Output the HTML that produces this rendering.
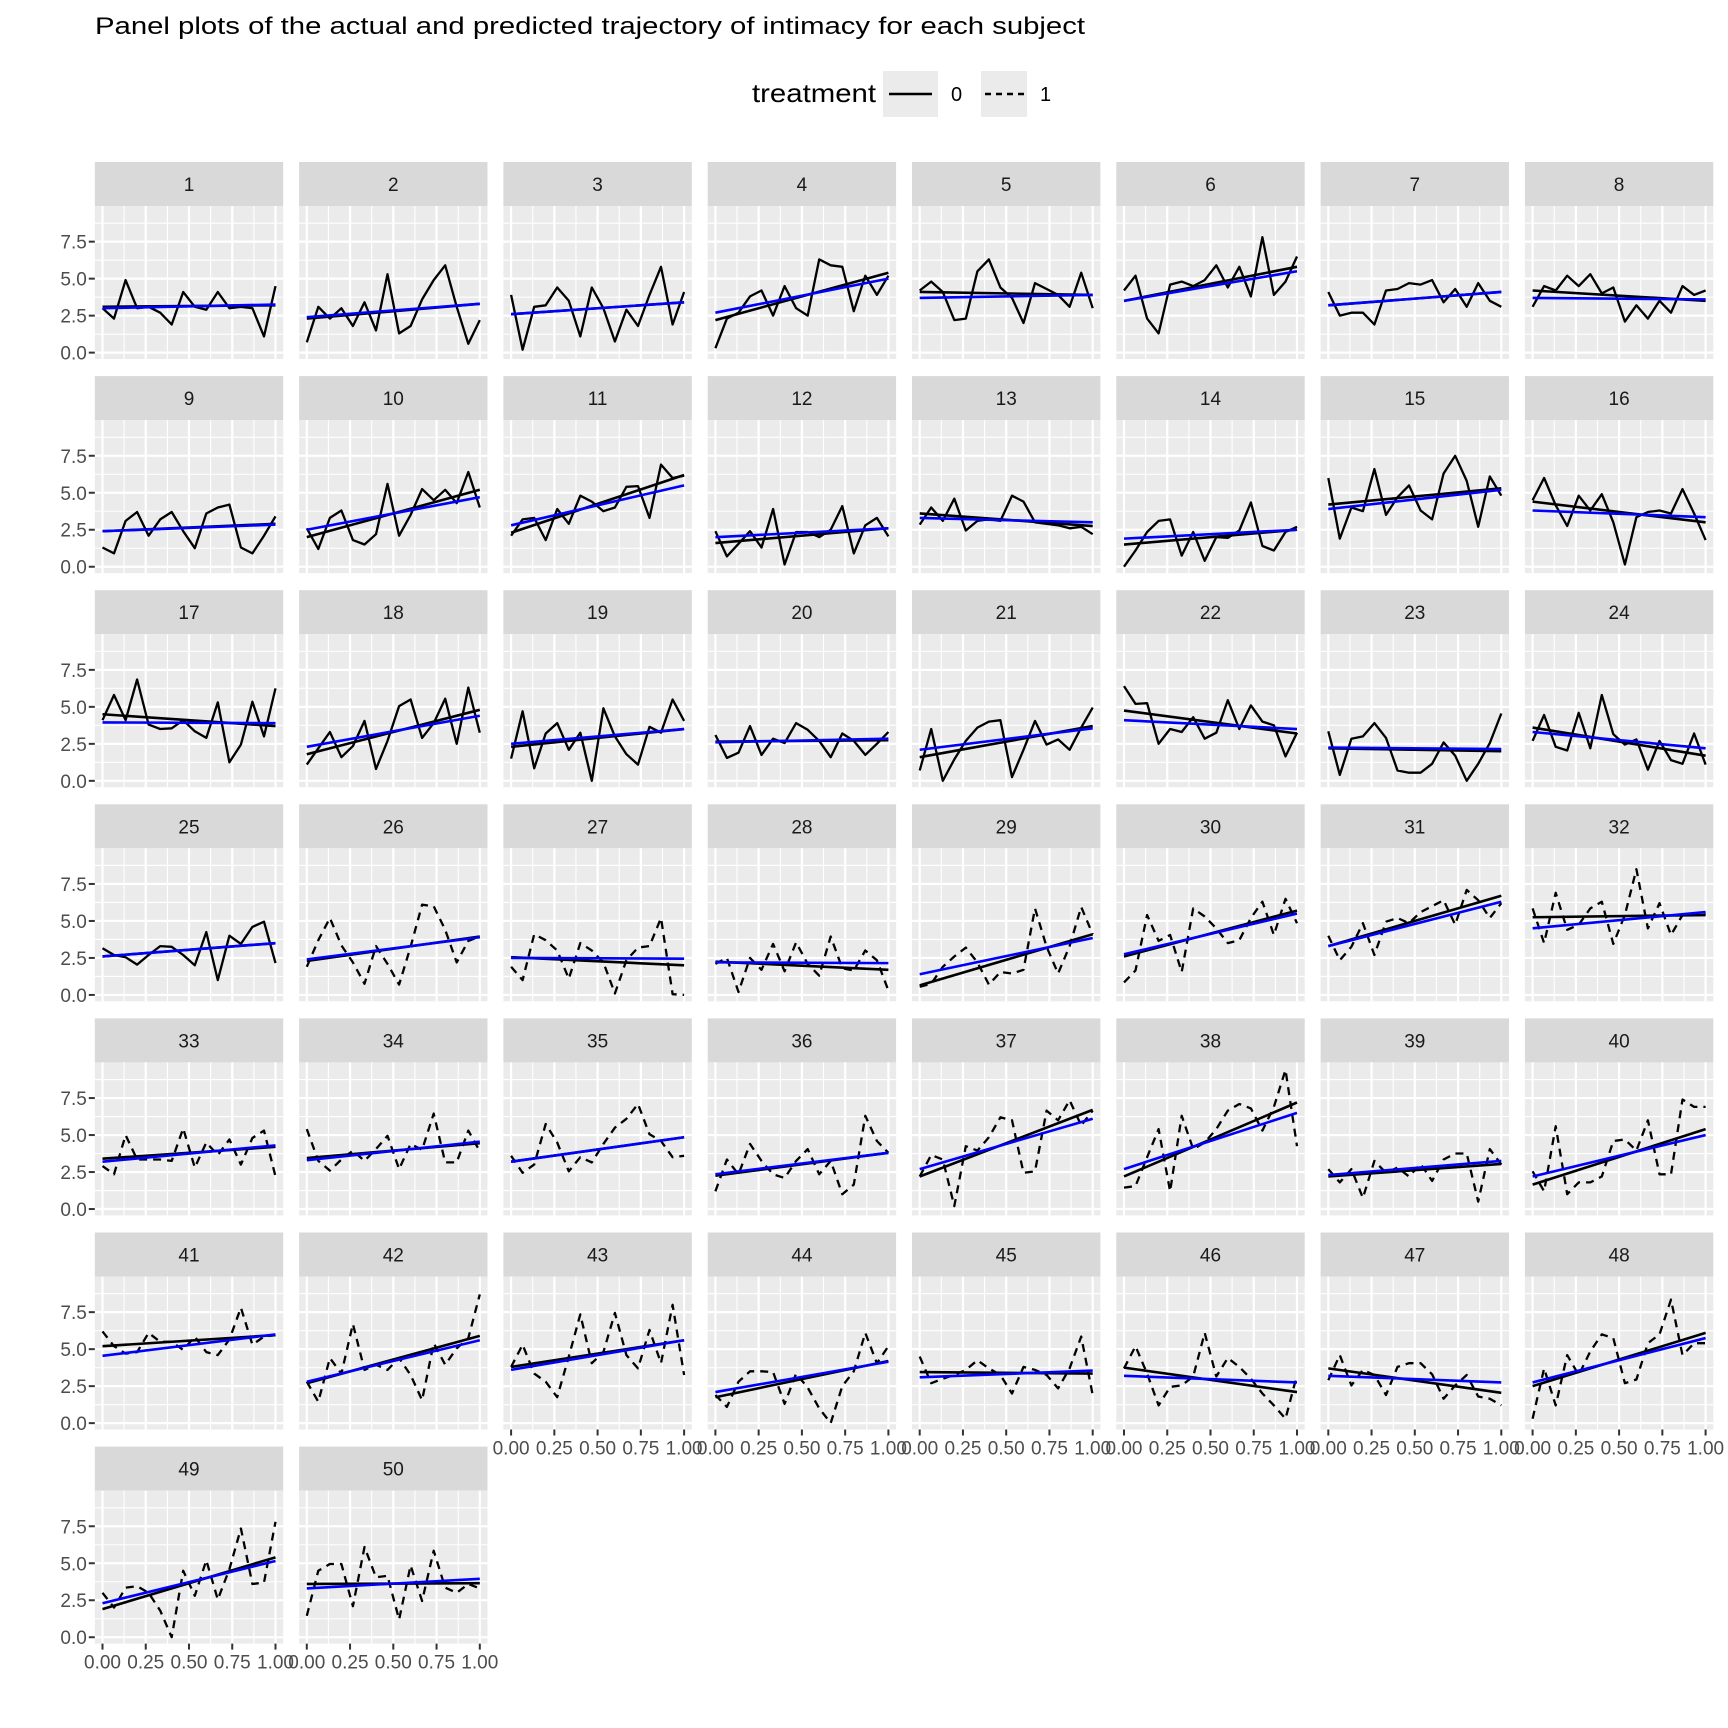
<!DOCTYPE html>
<html><head><meta charset="utf-8"><style>
html,body{margin:0;padding:0;background:#fff;}
svg{display:block;font-family:"Liberation Sans",Arial,sans-serif;}
</style></head><body>
<svg id="chart" xmlns="http://www.w3.org/2000/svg" width="1728" height="1728" viewBox="0 0 1728 1728">
<text x="95" y="34" font-size="24" fill="#000" textLength="990" lengthAdjust="spacingAndGlyphs">Panel plots of the actual and predicted trajectory of intimacy for each subject</text>
<g>
<text x="752" y="102" font-size="26" fill="#000" textLength="124" lengthAdjust="spacingAndGlyphs">treatment</text>
<rect x="883" y="71" width="55" height="46" fill="#EBEBEB"/>
<line x1="889" y1="94" x2="932" y2="94" stroke="#000" stroke-width="2.4"/>
<text x="951" y="101" font-size="20" fill="#000">0</text>
<rect x="981" y="71" width="46" height="46" fill="#EBEBEB"/>
<line x1="985" y1="94" x2="1024" y2="94" stroke="#000" stroke-width="2.4" stroke-dasharray="6,5"/>
<text x="1040" y="101" font-size="20" fill="#000">1</text>
</g>
<g id="panels"></g>
</svg>
<script>
const subjects = [1,2,3,4,5,6,7,8,9,10,11,12,13,14,15,16,17,18,19,20,21,22,23,24,25,26,27,28,29,30,31,32,33,34,35,36,37,38,39,40,41,42,43,44,45,46,47,48,49,50];
const treatment = [0,0,0,0,0,0,0,0,0,0,0,0,0,0,0,0,0,0,0,0,0,0,0,0,0,1,1,1,1,1,1,1,1,1,1,1,1,1,1,1,1,1,1,1,1,1,1,1,1,1];
const intimacy = [
[3.0,2.3,4.9,3.0,3.1,2.7,1.9,4.1,3.1,2.9,4.1,3.0,3.1,3.0,1.1,4.5],
[0.7,3.1,2.3,3.0,1.8,3.4,1.5,5.3,1.3,1.8,3.6,4.9,5.9,3.1,0.6,2.2],
[3.9,0.2,3.1,3.2,4.4,3.5,1.1,4.4,3.0,0.75,2.9,1.8,3.9,5.8,1.9,4.1],
[0.3,2.3,2.7,3.8,4.2,2.5,4.5,3.0,2.5,6.3,5.9,5.8,2.8,5.2,3.9,5.2],
[4.2,4.8,4.1,2.2,2.3,5.5,6.3,4.4,3.7,2.0,4.7,4.3,3.9,3.1,5.4,3.0],
[4.2,5.2,2.3,1.3,4.6,4.8,4.5,4.9,5.9,4.4,5.8,3.8,7.8,3.9,4.8,6.5],
[4.1,2.5,2.7,2.7,1.9,4.2,4.3,4.7,4.6,4.9,3.4,4.3,3.1,4.7,3.5,3.1],
[3.1,4.5,4.2,5.2,4.5,5.3,4.0,4.4,2.1,3.2,2.3,3.5,2.7,4.5,3.9,4.2],
[1.3,0.9,3.1,3.7,2.1,3.2,3.7,2.4,1.25,3.6,4.0,4.2,1.3,0.9,2.1,3.4],
[2.6,1.2,3.3,3.8,1.8,1.5,2.2,5.6,2.1,3.5,5.25,4.5,5.2,4.3,6.4,4.0],
[2.1,3.2,3.3,1.8,3.9,2.9,4.8,4.4,3.75,4.0,5.4,5.45,3.3,6.9,6.0,6.15],
[2.4,0.7,1.55,2.4,1.3,3.9,0.15,2.35,2.35,2.0,2.5,4.1,0.9,2.8,3.3,2.05],
[2.85,4.0,3.1,4.6,2.45,3.1,3.2,3.1,4.8,4.4,3.0,2.9,2.8,2.6,2.7,2.2],
[0.0,1.1,2.35,3.1,3.2,0.75,2.35,0.4,2.0,1.95,2.45,4.35,1.4,1.1,2.35,2.7],
[6.0,1.9,4.0,3.75,6.6,3.5,4.7,5.5,3.8,3.2,6.3,7.5,5.8,2.7,6.1,4.8],
[4.5,6.0,4.15,2.75,4.8,3.8,4.9,3.0,0.15,3.35,3.7,3.8,3.6,5.25,3.6,1.8],
[4.1,5.8,4.1,6.85,3.8,3.5,3.55,4.1,3.35,2.9,5.3,1.25,2.45,5.35,3.0,6.25],
[1.1,2.2,3.3,1.6,2.35,4.05,0.8,2.7,5.05,5.5,2.9,3.9,5.55,2.5,6.3,3.25],
[1.5,4.7,0.85,3.2,3.9,2.1,3.25,0.0,4.9,3.0,1.8,1.1,3.65,3.25,5.5,4.05],
[3.1,1.55,1.9,3.7,1.75,2.85,2.55,3.9,3.45,2.7,1.6,3.2,2.7,1.75,2.5,3.3],
[0.7,3.5,0.0,1.45,2.7,3.6,4.0,4.1,0.25,2.1,4.05,2.45,2.8,2.1,3.6,4.95],
[6.4,5.2,5.25,2.5,3.5,3.3,4.3,2.85,3.25,5.45,3.5,5.1,4.0,3.75,1.65,3.25],
[3.35,0.4,2.85,3.0,3.9,2.9,0.7,0.55,0.55,1.15,2.6,1.7,0.0,1.15,2.55,4.55],
[2.7,4.45,2.3,2.05,4.6,2.2,5.8,3.15,2.45,2.8,0.75,2.7,1.4,1.15,3.2,1.1],
[3.15,2.7,2.55,2.05,2.7,3.3,3.25,2.7,2.0,4.25,1.0,4.0,3.45,4.6,4.95,2.15],
[1.9,3.7,5.2,3.35,2.2,0.75,3.3,2.1,0.7,3.25,6.1,6.0,4.4,2.2,3.65,3.95],
[1.9,1.0,4.1,3.7,3.0,1.1,3.5,3.0,2.2,0.1,2.35,3.2,3.3,5.2,0.05,0.0],
[2.1,2.5,0.2,2.5,1.7,3.45,1.6,3.55,2.1,1.3,3.95,1.8,1.65,3.0,2.35,0.3],
[0.55,0.75,1.9,2.6,3.2,2.2,0.7,1.55,1.45,1.7,5.85,3.25,1.45,3.3,5.95,4.1],
[0.85,1.65,5.4,3.65,4.05,1.55,5.85,5.3,4.5,3.5,3.7,5.2,6.3,4.05,6.5,4.85],
[4.0,2.35,3.25,4.85,2.7,4.95,5.2,4.85,5.6,6.0,6.4,4.75,7.1,6.4,5.2,6.2],
[5.85,3.5,6.9,4.4,4.75,5.85,6.3,3.45,5.4,8.5,4.5,6.2,4.05,5.4,5.4,5.5],
[2.9,2.35,5.0,3.35,3.35,3.35,3.25,5.45,2.8,4.5,3.65,4.7,3.0,4.8,5.3,2.2],
[5.4,3.25,2.6,3.35,3.95,3.25,4.05,4.95,2.7,4.4,4.0,6.45,3.15,3.15,5.3,3.9],
[3.6,2.45,3.0,5.75,4.5,2.55,3.5,3.15,4.4,5.5,6.1,7.1,5.05,4.6,3.5,3.6],
[1.2,3.35,2.35,4.4,3.25,2.35,2.1,3.25,4.05,2.35,3.25,1.0,1.65,6.3,4.6,3.8],
[2.2,3.65,3.35,0.2,4.25,3.95,4.85,6.2,6.0,2.45,2.55,6.65,6.0,7.35,5.65,6.65],
[1.45,1.55,3.5,5.4,1.2,6.3,4.05,4.5,5.4,6.65,7.1,6.8,5.3,6.9,9.4,4.25],
[2.7,1.8,2.7,0.75,3.25,2.45,2.8,2.2,3.05,1.9,3.35,3.75,3.75,0.5,4.05,3.0],
[2.55,1.2,5.6,1.0,1.8,1.8,2.2,4.6,4.7,3.95,6.0,2.35,2.35,7.4,6.9,6.9],
[6.2,5.2,4.7,4.8,6.1,5.5,5.5,4.95,5.85,4.8,4.6,5.65,7.8,5.3,5.85,5.95],
[2.8,1.45,4.4,3.35,6.7,3.6,3.95,3.6,4.4,3.25,1.55,5.4,3.95,5.05,5.75,8.7],
[3.8,5.3,3.35,2.8,1.75,4.5,7.35,4.05,4.8,7.45,4.6,3.7,6.3,4.05,8.0,3.25],
[1.9,1.1,2.8,3.5,3.5,3.45,1.3,3.35,2.4,1.0,0.0,2.5,3.5,6.1,4.05,5.2],
[4.5,2.7,3.0,3.25,3.6,4.25,3.7,3.25,2.0,3.8,3.6,3.25,2.35,3.7,5.85,1.9],
[3.7,5.2,3.35,1.2,2.45,2.55,3.15,6.1,3.15,4.4,3.8,3.0,2.0,1.2,0.3,3.25],
[2.9,4.6,2.55,3.6,3.25,1.9,3.8,4.05,4.05,3.3,1.65,2.55,3.25,1.8,1.65,1.2],
[0.3,3.7,1.2,4.6,3.25,4.85,6.0,5.75,2.7,2.95,5.4,6.0,8.35,4.6,5.4,5.4],
[3.0,2.0,3.35,3.45,3.0,1.8,0.0,4.5,2.8,5.2,2.55,4.6,7.35,3.6,3.7,7.8],
[1.45,4.5,4.95,4.95,2.1,6.1,4.05,4.15,1.2,4.85,2.45,5.85,3.35,3.0,3.6,3.3]
];
const fitStart = [3.1,2.3,2.6,2.2,4.1,3.5,3.2,4.2,2.4,2.0,2.3,1.6,3.6,1.5,4.2,4.4,4.5,1.8,2.3,2.65,1.6,4.75,2.2,3.6,2.6,2.3,2.55,2.25,0.65,2.6,3.3,5.25,3.4,3.45,3.2,2.25,2.2,2.2,2.2,1.65,5.2,2.7,3.8,1.75,3.45,3.75,3.7,2.5,1.9,3.6];
const fitEnd = [3.2,3.3,3.4,5.4,3.9,5.8,4.1,3.5,2.9,5.2,6.2,2.6,2.75,2.5,5.3,3.0,3.7,4.8,3.5,2.75,3.7,3.2,2.0,1.7,3.5,3.95,2.0,1.7,4.1,5.7,6.7,5.4,4.2,4.45,4.85,3.8,6.7,7.2,3.05,5.4,5.95,5.9,5.6,4.2,3.35,2.1,2.05,6.1,5.4,3.65];
const predStart = [3.0,2.4,2.6,2.7,3.7,3.5,3.2,3.7,2.4,2.5,2.8,2.0,3.3,1.9,3.9,3.8,3.95,2.3,2.5,2.6,2.1,4.1,2.25,3.3,2.6,2.4,2.5,2.2,1.4,2.75,3.3,4.5,3.2,3.3,3.2,2.35,2.7,2.7,2.3,2.2,4.55,2.8,3.6,2.1,3.1,3.2,3.2,2.75,2.3,3.3];
const predEnd = [3.25,3.3,3.4,5.0,3.9,5.5,4.1,3.6,2.85,4.7,5.5,2.6,3.0,2.5,5.2,3.35,3.9,4.4,3.5,2.85,3.55,3.5,2.15,2.2,3.5,3.9,2.45,2.15,3.85,5.5,6.3,5.6,4.3,4.55,4.85,3.8,6.1,6.5,3.25,5.0,6.0,5.6,5.6,4.15,3.55,2.75,2.75,5.75,5.15,3.95];
const yTicks = [0, 2.5, 5, 7.5];
const yTickLabels = ["0.0","2.5","5.0","7.5"];
const xTicks = [0, 0.25, 0.5, 0.75, 1];
const xTickLabels = ["0.00","0.25","0.50","0.75","1.00"];

const NS = "http://www.w3.org/2000/svg";
const root = document.getElementById("panels");
const NCOL = 8, PW = 188.4, PH = 153, PITCHX = 204.3, PITCHY = 214.1, LEFT0 = 94.8, STRIP0 = 162, STRIPH = 44;
const YMIN = -0.43, YMAX = 9.91, XPAD = 7.7;
function mk(tag, attrs, parent) {
  const e = document.createElementNS(NS, tag);
  for (const k in attrs) e.setAttribute(k, attrs[k]);
  parent.appendChild(e);
  return e;
}
function xScale(left, v) { return left + XPAD + v * (PW - 2 * XPAD); }
function yScale(top, v) { return top + PH - (v - YMIN) / (YMAX - YMIN) * PH; }

subjects.forEach((s, i) => {
  const c = i % NCOL, r = Math.floor(i / NCOL);
  const left = LEFT0 + c * PITCHX;
  const stripTop = STRIP0 + r * PITCHY;
  const top = stripTop + STRIPH;
  const g = mk("g", {}, root);
  
  
  const strip = mk("rect", {x: left, y: stripTop, width: PW, height: STRIPH, fill: "#D9D9D9"}, g);
  
  
  const st = mk("text", {x: left + PW / 2, y: stripTop + 29, "font-size": 19, fill: "#1A1A1A", "text-anchor": "middle"}, g);
  
  
  st.textContent = String(s);
  const bg = mk("rect", {x: left, y: top, width: PW, height: PH, fill: "#EBEBEB"}, g);
  
  
  [1.25, 3.75, 6.25, 8.75].forEach(v => {
    const y = yScale(top, v);
    mk("line", {x1: left, x2: left + PW, y1: y, y2: y, stroke: "#fff", "stroke-width": 1.1}, g);
  });
  [0.125, 0.375, 0.625, 0.875].forEach(v => {
    const x = xScale(left, v);
    mk("line", {x1: x, x2: x, y1: top, y2: top + PH, stroke: "#fff", "stroke-width": 1.1}, g);
  });
  yTicks.forEach(v => {
    const y = yScale(top, v);
    mk("line", {x1: left, x2: left + PW, y1: y, y2: y, stroke: "#fff", "stroke-width": 2.2}, g);
  });
  xTicks.forEach(v => {
    const x = xScale(left, v);
    mk("line", {x1: x, x2: x, y1: top, y2: top + PH, stroke: "#fff", "stroke-width": 2.2}, g);
  });
  const vals = intimacy[i];
  const pts = vals.map((v, k) => xScale(left, k / (vals.length - 1)).toFixed(1) + "," + yScale(top, v).toFixed(1)).join(" ");
  const pl = mk("polyline", {points: pts, fill: "none", stroke: "#000", "stroke-width": 2.3, "stroke-linejoin": "round"}, g);
  if (treatment[i] === 1) pl.setAttribute("stroke-dasharray", "8,6");
  
  
  const fl = mk("line", {x1: xScale(left, 0), y1: yScale(top, fitStart[i]), x2: xScale(left, 1), y2: yScale(top, fitEnd[i]), stroke: "#000", "stroke-width": 2.6}, g);
  
  
  const pr = mk("line", {x1: xScale(left, 0), y1: yScale(top, predStart[i]), x2: xScale(left, 1), y2: yScale(top, predEnd[i]), stroke: "#0000FF", "stroke-width": 2.6}, g);
  
  
  if (c === 0) {
    yTicks.forEach((v, k) => {
      const y = yScale(top, v);
      mk("line", {x1: left - 6, x2: left, y1: y, y2: y, stroke: "#333", "stroke-width": 2}, g);
      const t = mk("text", {x: left - 8, y: y + 7, "font-size": 19, fill: "#4D4D4D", "text-anchor": "end"}, g);
      
      
      t.textContent = yTickLabels[k];
    });
  }
  const below = i + NCOL;
  if (below >= subjects.length) {
    xTicks.forEach((v, k) => {
      const x = xScale(left, v);
      mk("line", {x1: x, x2: x, y1: top + PH, y2: top + PH + 6, stroke: "#333", "stroke-width": 2}, g);
      const t = mk("text", {x: x, y: top + PH + 25, "font-size": 19, fill: "#4D4D4D", "text-anchor": "middle"}, g);
      
      
      t.textContent = xTickLabels[k];
    });
  }
});
</script>
</body></html>
